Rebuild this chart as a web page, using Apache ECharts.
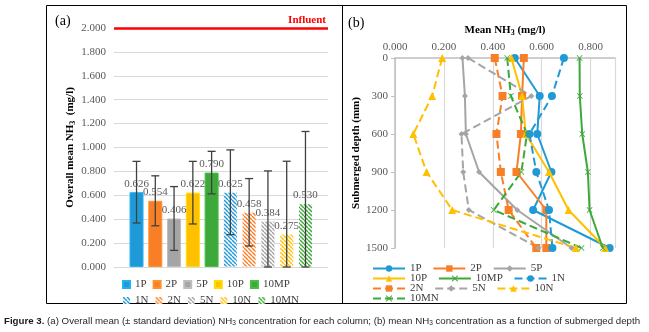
<!DOCTYPE html>
<html>
<head>
<meta charset="utf-8">
<script src="https://cdn.jsdelivr.net/npm/echarts@6/dist/echarts.min.js"></script>
<style>
  html, body { margin: 0; padding: 0; background: #fff; }
  #main { width: 649px; height: 332px; }
</style>
</head>
<body>
<div id="main"></div>
<script>
// ---- panel (a): overall mean NH3 per column ----
var columns = ['1P', '2P', '5P', '10P', '10MP', '1N', '2N', '5N', '10N', '10MN'];
var meanNH3 = [0.626, 0.554, 0.406, 0.622, 0.790, 0.625, 0.458, 0.384, 0.275, 0.530];
var sdNH3 = [0.258, 0.209, 0.267, 0.262, 0.178, 0.355, 0.282, 0.42, 0.61, 0.604];
var influent = 2.0;

// ---- panel (b): mean NH3 vs submerged depth ----
var depths = [0, 300, 600, 900, 1200, 1500];
var p1P = [0.49, 0.592, 0.582, 0.64, 0.565, 0.878];
var p2P = [0.527, 0.52, 0.515, 0.497, 0.619, 0.619];
var p5P = [0.276, 0.286, 0.29, 0.344, 0.5, 0.722];
var p10P = [0.476, 0.52, 0.535, 0.63, 0.71, 0.86];
var p10MP = [0.755, 0.756, 0.766, 0.789, 0.796, 0.85];
var p1N = [0.691, 0.642, 0.55, 0.578, 0.63, 0.644];
var p2N = [0.408, 0.44, 0.415, 0.433, 0.465, 0.578];
var p5N = [0.299, 0.558, 0.272, 0.279, 0.302, 0.587];
var p10N = [0.193, 0.152, 0.075, 0.129, 0.234, 0.74];
var p10MN = [0.459, 0.474, 0.54, 0.517, 0.404, 0.763];

var colors = ['#1F9AD6', '#F97F27', '#A5A5A5', '#FFC000', '#3EA83B'];
var serif = 'Liberation Serif';
var xMark = 'path://M0,1L1,0L5,4L9,0L10,1L6,5L10,9L9,10L5,6L1,10L0,9L4,5Z';

function stripes(color) {
    var c = document.createElement('canvas');
    c.width = 4; c.height = 4;
    var g = c.getContext('2d');
    g.fillStyle = '#fff';
    g.fillRect(0, 0, 4, 4);
    g.strokeStyle = color;
    g.lineWidth = 1.4;
    for (var k = -1; k <= 1; k++) {
        g.beginPath();
        g.moveTo(0, 4 * k);
        g.lineTo(4, 4 + 4 * k);
        g.stroke();
    }
    return { image: c, repeat: 'repeat' };
}

var chart = echarts.init(document.getElementById('main'));
var series = [];

// bars: one series per column so each gets its legend entry
columns.forEach(function (name, i) {
    var base = colors[i % 5];
    var s = {
        name: name,
        type: 'bar',
        xAxisIndex: 0,
        yAxisIndex: 0,
        barWidth: 14,
        barGap: '-100%',
        data: [[i, meanNH3[i]]],
        itemStyle: {
            color: i < 5 ? base : stripes(base),
            borderColor: i < 5 ? echarts.color.lift(base, -0.15) : 'transparent',
            borderWidth: 1
        },
        label: {
            show: true,
            position: 'top',
            distance: 3,
            color: '#595959',
            fontFamily: serif,
            fontSize: 11,
            formatter: function (p) { return p.value[1].toFixed(3); }
        }
    };
    if (i === 0) {
        s.markLine = {
            silent: true,
            symbol: 'none',
            lineStyle: { color: '#FF0000', width: 2.5, type: 'solid' },
            label: {
                position: 'insideEndTop',
                formatter: 'Influent',
                color: '#FF0000',
                fontFamily: serif,
                fontWeight: 'bold',
                fontSize: 11,
                distance: 2
            },
            data: [{ yAxis: influent }]
        };
    }
    series.push(s);
});

// error bars (mean ± sd, clipped at 0)
series.push({
    type: 'custom',
    xAxisIndex: 0,
    yAxisIndex: 0,
    z: 5,
    data: columns.map(function (c, i) { return [i, meanNH3[i], sdNH3[i]]; }),
    renderItem: function (params, api) {
        var x = api.value(0), m = api.value(1), sd = api.value(2);
        var hi = api.coord([x, m + sd]);
        var lo = api.coord([x, Math.max(0, m - sd)]);
        var st = { stroke: '#404040', lineWidth: 1.3 };
        return {
            type: 'group',
            children: [
                { type: 'line', shape: { x1: hi[0], y1: hi[1], x2: lo[0], y2: lo[1] }, style: st },
                { type: 'line', shape: { x1: hi[0] - 4, y1: hi[1], x2: hi[0] + 4, y2: hi[1] }, style: st },
                { type: 'line', shape: { x1: lo[0] - 4, y1: lo[1], x2: lo[0] + 4, y2: lo[1] }, style: st }
            ]
        };
    }
});

// depth profiles
var lineDefs = [
    ['1P', p1P, colors[0], 'circle', 8, 'solid'],
    ['2P', p2P, colors[1], 'rect', 8, 'solid'],
    ['5P', p5P, colors[2], 'diamond', 6, 'solid'],
    ['10P', p10P, colors[3], 'triangle', 8, 'solid'],
    ['10MP', p10MP, colors[4], xMark, 6, 'solid'],
    ['1N', p1N, colors[0], 'circle', 8, 'dashed'],
    ['2N', p2N, colors[1], 'rect', 8, 'dashed'],
    ['5N', p5N, colors[2], 'diamond', 6, 'dashed'],
    ['10N', p10N, colors[3], 'triangle', 8, 'dashed'],
    ['10MN', p10MN, colors[4], xMark, 6, 'dashed']
];
lineDefs.forEach(function (d) {
    series.push({
        name: d[0] + ' ',
        type: 'line',
        xAxisIndex: 1,
        yAxisIndex: 1,
        symbol: d[3],
        symbolSize: d[4],
        showAllSymbol: true,
        lineStyle: { color: d[2], width: 2, type: d[5] },
        itemStyle: { color: d[2] },
        data: d[1].map(function (v, k) { return [v, depths[k]]; })
    });
});

function barLegend(names, top) {
    return {
        data: names,
        left: 117,
        top: top,
        itemWidth: 7,
        itemHeight: 7,
        itemGap: 6,
        icon: 'rect',
        textStyle: { fontFamily: serif, fontSize: 11, color: '#404040', width: 22 },
        selectedMode: false
    };
}
function lineLegend(names, top) {
    return {
        data: names,
        left: 367,
        top: top,
        itemWidth: 32,
        itemHeight: 8,
        itemGap: 8,
        textStyle: { fontFamily: serif, fontSize: 11, color: '#404040', width: 45 },
        selectedMode: false
    };
}

var option = {
    animation: false,
    backgroundColor: '#fff',
    grid: [
        { left: 114, right: 321, top: 28, bottom: 65 },
        { left: 395, right: 34, top: 58, bottom: 84 }
    ],
    xAxis: [
        {
            type: 'value', gridIndex: 0, min: -1.2, max: 10.2,
            show: false
        },
        {
            type: 'value', gridIndex: 1, position: 'top', min: 0, max: 0.9, interval: 0.2,
            name: 'Mean NH{s|3} (mg/l)',
            nameLocation: 'middle',
            nameGap: 19,
            nameTextStyle: {
                fontFamily: serif, fontSize: 11, fontWeight: 'bold', color: '#000',
                rich: { s: { fontFamily: serif, fontSize: 8, fontWeight: 'bold', padding: [6, 0, 0, 0] } }
            },
            axisLine: { show: true, lineStyle: { color: '#BFBFBF', width: 1.5 } },
            axisTick: { show: false },
            axisLabel: {
                color: '#595959', fontFamily: serif, fontSize: 11, margin: 5,
                showMaxLabel: false,
                formatter: function (v) { return v.toFixed(3); }
            },
            splitLine: { show: true, lineStyle: { color: '#D9D9D9', width: 1.2 } }
        }
    ],
    yAxis: [
        {
            type: 'value', gridIndex: 0, min: 0, max: 2, interval: 0.2,
            name: 'Overall mean NH{s|3}  (mg/l)',
            nameLocation: 'middle',
            nameGap: 33,
            nameTextStyle: {
                fontFamily: serif, fontSize: 11, fontWeight: 'bold', color: '#000',
                rich: { s: { fontFamily: serif, fontSize: 8, fontWeight: 'bold', padding: [6, 0, 0, 0] } }
            },
            axisLine: { show: false },
            axisTick: { show: false },
            axisLabel: {
                color: '#595959', fontFamily: serif, fontSize: 11, margin: 8,
                formatter: function (v) { return v.toFixed(3); }
            },
            splitLine: { lineStyle: { color: '#D9D9D9', width: 1.2 } }
        },
        {
            type: 'value', gridIndex: 1, inverse: true, min: 0, max: 1500, interval: 300,
            name: 'Submerged depth (mm)',
            nameLocation: 'middle',
            nameGap: 30,
            nameTextStyle: { fontFamily: serif, fontSize: 11, fontWeight: 'bold', color: '#000' },
            axisLine: { show: true, lineStyle: { color: '#BFBFBF', width: 1.5 } },
            axisTick: { show: true, inside: false, length: 4, lineStyle: { color: '#BFBFBF' } },
            axisLabel: {
                color: '#595959', fontFamily: serif, fontSize: 11, margin: 7,
                formatter: function (v) { return String(v); }
            },
            splitLine: { show: false }
        }
    ],
    legend: [
        barLegend(['1P', '2P', '5P', '10P', '10MP'], 274),
        barLegend(['1N', '2N', '5N', '10N', '10MN'], 290),
        lineLegend(['1P ', '2P ', '5P '], 258),
        lineLegend(['10P ', '10MP ', '1N '], 268),
        lineLegend(['2N ', '5N ', '10N '], 278),
        lineLegend(['10MN '], 288)
    ],
    graphic: [
        { type: 'rect', shape: { x: 46.5, y: 5.5, width: 296, height: 298 }, style: { fill: 'none', stroke: '#000', lineWidth: 1 } },
        { type: 'rect', shape: { x: 342.5, y: 5.5, width: 284, height: 298 }, style: { fill: 'none', stroke: '#000', lineWidth: 1 } },
        { type: 'text', left: 55, top: 14, style: { text: '(a)', font: '14px "Liberation Serif"', fill: '#000' } },
        { type: 'text', left: 348, top: 16, style: { text: '(b)', font: '14px "Liberation Serif"', fill: '#000' } },
        {
            type: 'text', left: 4, top: 316,
            style: {
                text: '{b|Figure 3.} (a) Overall mean (\u00b1 standard deviation) NH{s|3} concentration for each column; (b) mean NH{s|3} concentration as a function of submerged depth',
                fontFamily: 'Liberation Sans', fontSize: 9.7, fill: '#231F20',
                rich: {
                    b: { fontFamily: 'Liberation Sans', fontSize: 9.7, fontWeight: 'bold', fill: '#1a1a1a' },
                    s: { fontFamily: 'Liberation Sans', fontSize: 6.5, padding: [4, 0, 0, 0] }
                }
            }
        }
    ],
    series: series
};

chart.setOption(option);
</script>
</body>
</html>
